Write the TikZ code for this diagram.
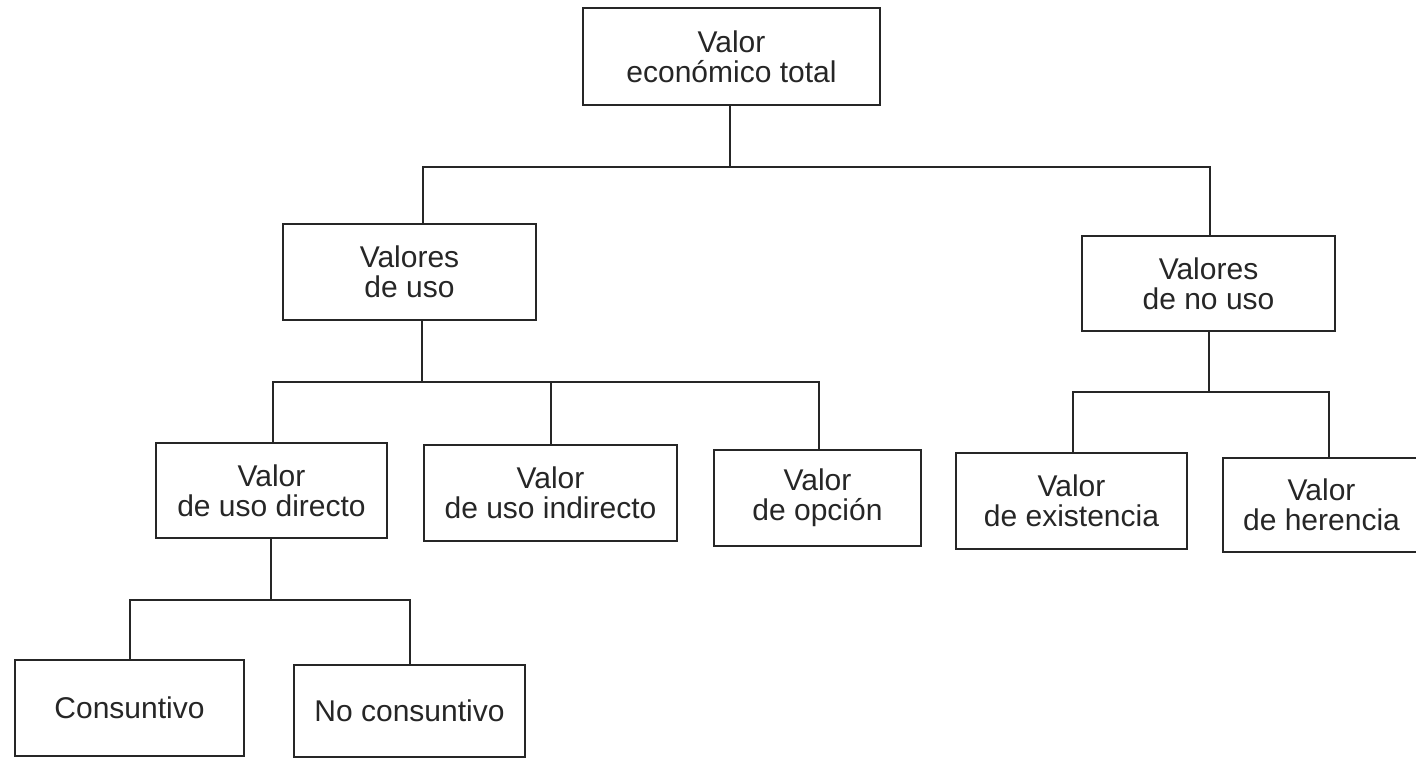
\documentclass[tikz,border=0pt]{standalone}
\usepackage{fontspec}
\setmainfont{Liberation Sans}
\begin{document}
\begin{tikzpicture}[x=0.5pt,y=-0.5pt,
  box/.style={draw=black!85, line width=0.9pt, inner sep=0pt, align=center,
    font=\fontsize{15}{15}\selectfont, text=black!85},
  link/.style={draw=black!85, line width=0.9pt}]
\useasboundingbox (0,0) rectangle (1416,759);
% nodes
\node[box, minimum width=148.5pt, minimum height=48.5pt] (vet) at (731.5,56.5) {Valor\\económico total};
\node[box, minimum width=126.5pt, minimum height=48pt] (vu) at (409.5,272) {Valores\\de uso};
\node[box, minimum width=126.5pt, minimum height=47.5pt] (vnu) at (1208.5,283.5) {Valores\\de no uso};
\node[box, minimum width=115.5pt, minimum height=47.5pt] (vud) at (271.5,490.5) {Valor\\de uso directo};
\node[box, minimum width=126.5pt, minimum height=48pt] (vui) at (550.5,493) {Valor\\de uso indirecto};
\node[box, minimum width=103.5pt, minimum height=48pt] (vo) at (817.5,498) {Valor\\de opción};
\node[box, minimum width=115.5pt, minimum height=48pt] (ve) at (1071.5,501) {Valor\\de existencia};
\node[box, minimum width=98.5pt, minimum height=47pt] (vh) at (1321.5,505) {Valor\\de herencia};
\node[box, minimum width=114.5pt, minimum height=48pt] (c) at (129.5,708) {Consuntivo};
\node[box, minimum width=115.5pt, minimum height=46pt] (nc) at (409.5,711) {No consuntivo};
% junction coordinates
\coordinate (b1) at (730,167);
\coordinate (b1l) at (423,167);
\coordinate (b1r) at (1210,167);
\coordinate (b2) at (422,382);
\coordinate (b2l) at (273,382);
\coordinate (b2m) at (551,382);
\coordinate (b2r) at (819,382);
\coordinate (b3) at (1209,392);
\coordinate (b3l) at (1073,392);
\coordinate (b3r) at (1329,392);
\coordinate (b4) at (271,600);
\coordinate (b4l) at (130,600);
\coordinate (b4r) at (410,600);
% connectors
\draw[link] (vet.south -| b1) -- (b1);
\draw[link] (b1l |- vu.north) -- (b1l) -- (b1r) -- (b1r |- vnu.north);
\draw[link] (vu.south -| b2) -- (b2);
\draw[link] (b2l |- vud.north) -- (b2l) -- (b2r) -- (b2r |- vo.north);
\draw[link] (b2m) -- (b2m |- vui.north);
\draw[link] (vnu.south -| b3) -- (b3);
\draw[link] (b3l |- ve.north) -- (b3l) -- (b3r) -- (b3r |- vh.north);
\draw[link] (vud.south -| b4) -- (b4);
\draw[link] (b4l |- c.north) -- (b4l) -- (b4r) -- (b4r |- nc.north);
\end{tikzpicture}
\end{document}
